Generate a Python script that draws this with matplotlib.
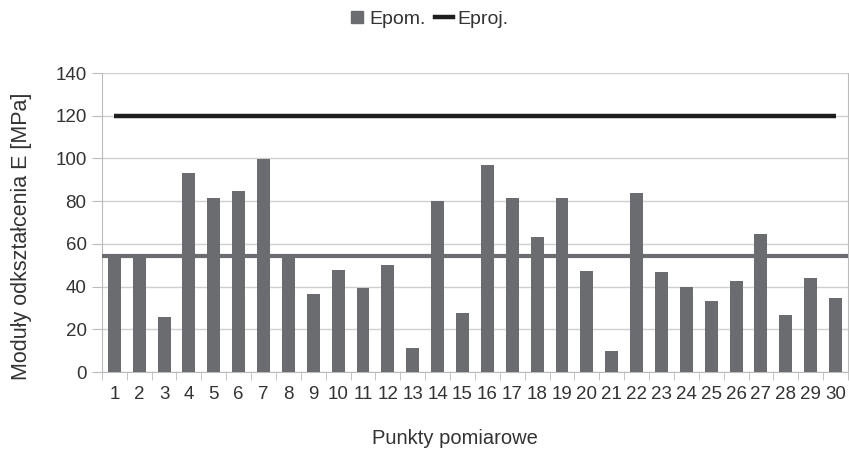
import matplotlib.pyplot as plt
from matplotlib.lines import Line2D
import numpy as np

plt.rcParams['font.family'] = ['Liberation Sans', 'DejaVu Sans']

# measuring points and measured moduli
points = list(range(1, 31))
e_pom = [54, 54, 26, 93, 81.6, 84.9, 99.7, 54, 36.5, 47.8,
         39.2, 50.1, 11.1, 80, 27.8, 96.9, 81.6, 63.1, 81.6, 47.1,
         10, 83.7, 46.8, 39.6, 33.4, 42.8, 64.6, 26.7, 44.2, 34.6]
e_proj = [120] * 30
e_mean = 54.5

y_ticks = [0, 20, 40, 60, 80, 100, 120, 140]

bar_color = "#6b6c6f"
grid_color = "#cfcfcf"
text_color = "#333333"

fig = plt.figure(figsize=(8.49, 4.51), dpi=100)
ax = fig.add_axes([0.120, 0.175, 0.8788, 0.663])

x = np.arange(len(points))
ax.bar(x, e_pom, width=0.52, color=bar_color, zorder=3)
ax.plot(x, e_proj, color="#1e1e1e", linewidth=3.2, zorder=4, solid_capstyle="butt")
ax.axhline(e_mean, color=bar_color, linewidth=3.0, zorder=4)

ax.set_xlim(-0.5, len(points) - 0.5)
ax.set_ylim(0, 140)
ax.set_yticks(y_ticks)
ax.set_xticks(x)
ax.set_xticklabels([str(p) for p in points])
ax.set_xticks(np.arange(-0.5, len(points)), minor=True)

ax.grid(axis="y", color=grid_color, linewidth=1.0, zorder=0)
ax.tick_params(axis="x", which="major", length=0, pad=10, labelsize=13.5, colors=text_color)
ax.tick_params(axis="x", which="minor", length=6, color="#bbbbbb", direction="out")
ax.tick_params(axis="y", length=7, labelsize=13.5, colors=text_color, pad=4)
ax.tick_params(axis="y", color="#bbbbbb")

ax.spines["top"].set_visible(False)
for side in ["left", "bottom", "right"]:
    ax.spines[side].set_color("#bbbbbb")

ax.set_ylabel("Moduły odkształcenia E [MPa]", fontsize=15.5, color=text_color)
ax.yaxis.set_label_coords(-0.094, 0.455)
ax.set_xlabel("Punkty pomiarowe", fontsize=14.5, color=text_color)
ax.xaxis.set_label_coords((455 - 102) / 746, -0.19)

handles = [
    Line2D([], [], linestyle="none", marker="s", markersize=8, color=bar_color, label="Epom."),
    Line2D([], [], color="#1e1e1e", linewidth=3.2, label="Eproj."),
]
fig.legend(handles=handles, loc="center", bbox_to_anchor=(0.504, 0.957),
           ncol=2, frameon=False, fontsize=14, handlelength=0.95,
           handletextpad=0.2, columnspacing=0.45, labelcolor=text_color)

fig.savefig("out.png", dpi=100)
